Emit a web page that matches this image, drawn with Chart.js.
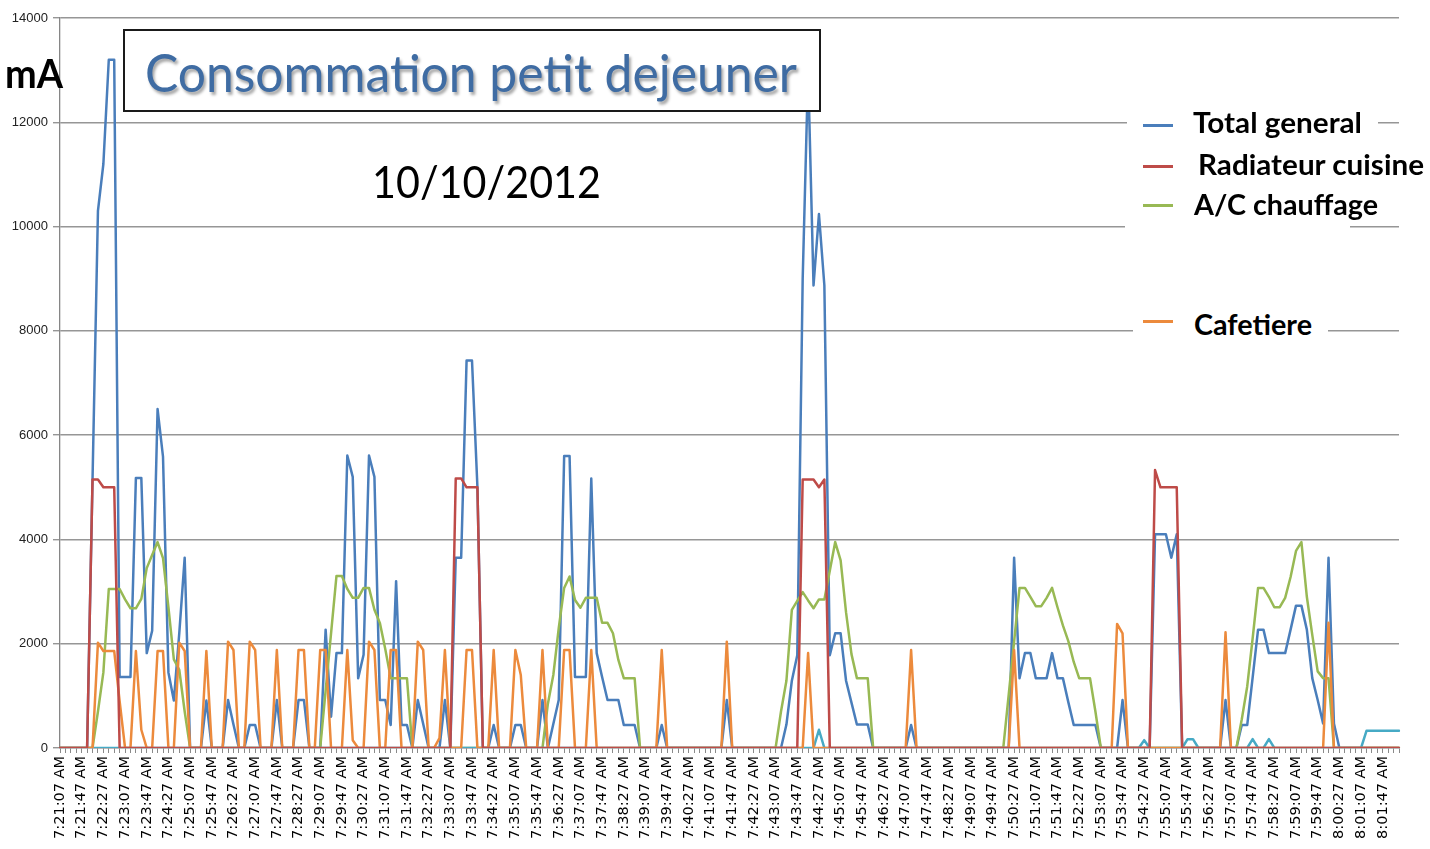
<!DOCTYPE html>
<html>
<head>
<meta charset="utf-8">
<title>Consommation petit dejeuner</title>
<script src="https://cdn.jsdelivr.net/npm/chart.js@4"></script>
<style>
  body { margin: 0; background: #fff; }
  #wrap { position: relative; width: 1430px; height: 849px; overflow: hidden; }
  #chartBox { position: absolute; left: 0; top: 0; width: 1430px; height: 849px; }
  .txt { position: absolute; white-space: nowrap; transform-origin: 0 0; font-family: Lato, sans-serif; }
  #titleBox { position: absolute; left: 123px; top: 29px; width: 698px; height: 83px;
              box-sizing: border-box; border: 2px solid #1a1a1a; background: #fff; }
  #title { left: 145px; top: 46px; font-size: 52px; line-height: 52px; color: #3f6ca3;
           text-shadow: 2px 3px 3px rgba(0,0,0,0.35); }
  #date { left: 372px; top: 159px; font-size: 44px; line-height: 44px; color: #000; }
  #unit { left: 5px; top: 53px; font-size: 40px; line-height: 40px; font-weight: 700; color: #000; }
  .mask { position: absolute; background: #fff; }
  .sw { position: absolute; width: 30px; height: 3px; }
  .leg { font-size: 28px; line-height: 28px; font-weight: 700; color: #000; }
</style>
</head>
<body>
<div id="wrap">
  <div id="chartBox"><canvas id="chart"></canvas></div>
  <div id="titleBox"></div>
  <div class="txt" id="title">Consommation petit dejeuner</div>
  <div class="txt" id="date">10/10/2012</div>
  <div class="txt" id="unit">mA</div>

  <div class="mask" style="left:1127px; top:106px; width:251px; height:36px;"></div>
  <div class="mask" style="left:1125px; top:144px; width:225px; height:90px;"></div>
  <div class="mask" style="left:1133px; top:300px; width:195px; height:42px;"></div>

  <div class="sw" style="left:1143px; top:124px; background:#4a7ebb;"></div>
  <div class="txt leg" id="leg1" style="left:1193px; top:108px;">Total general</div>
  <div class="sw" style="left:1143px; top:165px; background:#be4b48;"></div>
  <div class="txt leg" id="leg2" style="left:1198px; top:150px;">Radiateur cuisine</div>
  <div class="sw" style="left:1143px; top:204px; background:#98b954;"></div>
  <div class="txt leg" id="leg3" style="left:1194px; top:190px;">A/C chauffage</div>
  <div class="sw" style="left:1143px; top:320px; background:#ec8a3c;"></div>
  <div class="txt leg" id="leg4" style="left:1194px; top:310px;">Cafetiere</div>
</div>
<script>
// one reading every 10 s, a tick label every 4 readings
const tickLabels = [
  "7:21:07 AM","7:21:47 AM","7:22:27 AM","7:23:07 AM","7:23:47 AM","7:24:27 AM","7:25:07 AM","7:25:47 AM",
  "7:26:27 AM","7:27:07 AM","7:27:47 AM","7:28:27 AM","7:29:07 AM","7:29:47 AM","7:30:27 AM","7:31:07 AM",
  "7:31:47 AM","7:32:27 AM","7:33:07 AM","7:33:47 AM","7:34:27 AM","7:35:07 AM","7:35:47 AM","7:36:27 AM",
  "7:37:07 AM","7:37:47 AM","7:38:27 AM","7:39:07 AM","7:39:47 AM","7:40:27 AM","7:41:07 AM","7:41:47 AM",
  "7:42:27 AM","7:43:07 AM","7:43:47 AM","7:44:27 AM","7:45:07 AM","7:45:47 AM","7:46:27 AM","7:47:07 AM",
  "7:47:47 AM","7:48:27 AM","7:49:07 AM","7:49:47 AM","7:50:27 AM","7:51:07 AM","7:51:47 AM","7:52:27 AM",
  "7:53:07 AM","7:53:47 AM","7:54:27 AM","7:55:07 AM","7:55:47 AM","7:56:27 AM","7:57:07 AM","7:57:47 AM",
  "7:58:27 AM","7:59:07 AM","7:59:47 AM","8:00:27 AM","8:01:07 AM","8:01:47 AM"
];

// mA readings, 248 points each
const totalGeneral = [
  0,0,0,0,0,0,5150,10300,11200,13200,13200,1360,1360,1360,5180,5180,1820,2250,6500,5590,
  1450,910,2200,3650,0,0,0,910,0,0,0,920,450,0,0,440,440,0,0,0,
  920,0,0,0,920,920,0,0,0,2270,600,1820,1820,5610,5200,1340,1790,5610,5200,920,
  920,440,3200,440,440,0,920,460,0,0,0,920,0,3650,3650,7430,7430,5000,0,0,
  440,0,0,0,440,440,0,0,0,920,0,460,920,5600,5600,1360,1360,1360,5170,1820,
  1360,920,920,920,440,440,440,0,0,0,0,440,0,0,0,0,0,0,0,0,
  0,0,0,920,0,0,0,0,0,0,0,0,0,0,450,1290,1780,9000,13000,8870,
  10240,8870,1780,2200,2200,1290,870,450,450,450,0,0,0,0,0,0,0,440,0,0,
  0,0,0,0,0,0,0,0,0,0,0,0,0,0,0,0,3650,1340,1820,1820,
  1340,1340,1340,1820,1340,1340,880,440,440,440,440,440,0,0,0,0,920,0,0,0,
  0,0,4100,4100,4100,3650,4100,0,0,0,0,0,0,0,0,920,0,0,440,440,
  1350,2270,2270,1820,1820,1820,1820,2270,2730,2730,2270,1340,920,470,3650,470,0,0,0,0,
  0,0,0,0,0,0,0,0
];
const radiateurCuisine = [
  0,0,0,0,0,0,5150,5150,5000,5000,5000,0,0,0,0,0,0,0,0,0,
  0,0,0,0,0,0,0,0,0,0,0,0,0,0,0,0,0,0,0,0,
  0,0,0,0,0,0,0,0,0,0,0,0,0,0,0,0,0,0,0,0,
  0,0,0,0,0,0,0,0,0,0,0,0,0,5170,5170,5000,5000,5000,0,0,
  0,0,0,0,0,0,0,0,0,0,0,0,0,0,0,0,0,0,0,0,
  0,0,0,0,0,0,0,0,0,0,0,0,0,0,0,0,0,0,0,0,
  0,0,0,0,0,0,0,0,0,0,0,0,0,0,0,0,0,5150,5150,5150,
  5000,5150,0,0,0,0,0,0,0,0,0,0,0,0,0,0,0,0,0,0,
  0,0,0,0,0,0,0,0,0,0,0,0,0,0,0,0,0,0,0,0,
  0,0,0,0,0,0,0,0,0,0,0,0,0,0,0,0,0,0,0,0,
  0,0,5330,5000,5000,5000,5000,0,0,0,0,0,0,0,0,0,0,0,0,0,
  0,0,0,0,0,0,0,0,0,0,0,0,0,0,0,0,0,0,0,0,
  0,0,0,0,0,0,0,0
];
const acChauffage = [
  0,0,0,0,0,0,0,700,1450,3050,3050,3050,2850,2680,2680,2860,3450,3700,3950,3640,
  2700,1700,1500,700,0,0,0,0,0,0,0,0,0,0,0,0,0,0,0,0,
  0,0,0,0,0,0,0,0,0,1100,2200,3300,3300,3050,2880,2880,3070,3070,2650,2400,
  1900,1340,1340,1340,1340,0,0,0,0,0,0,0,0,0,0,0,0,0,0,0,
  0,0,0,0,0,0,0,0,0,0,850,1400,2300,3070,3290,2840,2690,2880,2880,2880,
  2400,2400,2200,1690,1340,1340,1340,0,0,0,0,0,0,0,0,0,0,0,0,0,
  0,0,0,0,0,0,0,0,0,0,0,0,0,700,1290,2650,2820,2990,2830,2680,
  2850,2850,3400,3950,3600,2600,1800,1340,1340,1340,0,0,0,0,0,0,0,0,0,0,
  0,0,0,0,0,0,0,0,0,0,0,0,0,0,0,1020,2040,3070,3070,2900,
  2720,2720,2880,3070,2700,2350,2050,1650,1340,1340,1340,700,0,0,0,0,0,0,0,0,
  0,0,0,0,0,0,0,0,0,0,0,0,0,0,0,0,0,0,550,1180,
  2100,3070,3070,2900,2700,2700,2880,3280,3780,3950,2900,2170,1470,1340,1340,0,0,0,0,0,
  0,0,0,0,0,0,0,0
];
const autreCircuit = [
  0,0,0,0,0,0,0,0,0,0,0,0,0,0,0,0,0,0,0,0,
  0,0,0,0,0,0,0,0,0,0,0,0,0,0,0,0,0,0,0,0,
  0,0,0,0,0,0,0,0,0,0,0,0,0,0,0,0,0,0,0,0,
  0,0,0,0,0,0,0,0,0,0,0,0,0,0,0,0,0,0,0,0,
  0,0,0,0,0,0,0,0,0,0,0,0,0,0,0,0,0,0,0,0,
  0,0,0,0,0,0,0,0,0,0,0,0,0,0,0,0,0,0,0,0,
  0,0,0,0,0,0,0,0,0,0,0,0,0,0,0,0,0,0,0,0,
  350,0,0,0,0,0,0,0,0,0,0,0,0,0,0,0,0,0,0,0,
  0,0,0,0,0,0,0,0,0,0,0,0,0,0,0,0,0,0,0,0,
  0,0,0,0,0,0,0,0,0,0,0,0,0,0,0,0,0,0,0,0,
  150,0,0,0,0,0,0,0,170,170,0,0,0,0,0,0,0,0,0,0,
  170,0,0,170,0,0,0,0,0,0,0,0,0,0,0,0,0,0,0,0,
  0,330,330,330,330,330,330,330
];
const cafetiere = [
  0,0,0,0,0,0,0,2020,1860,1860,1860,900,0,0,1860,350,0,0,1860,1860,
  0,0,2020,1860,0,0,0,1860,0,0,0,2040,1880,0,0,2040,1880,0,0,0,
  1880,0,0,0,1880,1880,0,0,1880,1880,0,0,0,1880,150,0,0,2040,1880,0,
  0,1880,1880,0,0,0,2040,1880,0,0,190,1880,0,0,0,1880,1880,0,0,0,
  1880,0,0,0,1880,1400,0,0,0,1880,0,0,0,1880,1880,0,0,0,1880,0,
  0,0,0,0,0,0,0,0,0,0,0,1880,0,0,0,0,0,0,0,0,
  0,0,0,2040,0,0,0,0,0,0,0,0,0,0,0,0,0,0,1820,0,
  0,0,0,0,0,0,0,0,0,0,0,0,0,0,0,0,0,1880,0,0,
  0,0,0,0,0,0,0,0,0,0,0,0,0,0,0,0,1880,0,0,0,
  0,0,0,0,0,0,0,0,0,0,0,0,0,0,0,2380,2200,0,0,0,
  0,0,0,0,0,0,0,0,0,0,0,0,0,0,0,2220,0,0,0,0,
  0,0,0,0,0,0,0,0,0,0,0,0,0,0,2400,0,0,0,0,0,
  0,0,0,0,0,0,0,0
];

// categories: one every 10 seconds from 7:21:07
const categories = [];
for (let i = 0; i < totalGeneral.length; i++) {
  let s = 7 * 3600 + 21 * 60 + 7 + i * 10;
  let h = Math.floor(s / 3600), m = Math.floor(s / 60) % 60, sec = s % 60;
  categories.push(h + ":" + String(m).padStart(2, "0") + ":" + String(sec).padStart(2, "0") + " AM");
}

let ctx = document.getElementById("chart").getContext("2d");
let chart = new Chart(ctx, {
  type: "line",
  data: {
    labels: categories,
    datasets: [
      { label: "Total general", data: totalGeneral, borderColor: "#4a7ebb", order: 5 },
      { label: "Radiateur cuisine", data: radiateurCuisine, borderColor: "#be4b48", order: 1 },
      { label: "A/C chauffage", data: acChauffage, borderColor: "#98b954", order: 4 },
      { label: "", data: autreCircuit, borderColor: "#46aac5", order: 3 },
      { label: "Cafetiere", data: cafetiere, borderColor: "#ec8a3c", order: 2 }
    ]
  },
  options: {
    responsive: true,
    maintainAspectRatio: false,
    animation: false,
    elements: {
      line: { borderWidth: 2.5, tension: 0, borderJoinStyle: "round", borderCapStyle: "round", fill: false },
      point: { radius: 0, hoverRadius: 0 }
    },
    layout: { padding: { top: 18, right: 31, left: 0, bottom: 0 } },
    plugins: { legend: { display: false }, tooltip: { enabled: false } },
    scales: {
      x: {
        offset: false,
        grid: { display: true, drawOnChartArea: false, drawTicks: true, tickLength: 5, color: "#8a8a8a" },
        border: { color: "#868686", width: 1.3 },
        ticks: {
          autoSkip: false, minRotation: 90, maxRotation: 90, padding: 3,
          color: "#000", font: { family: "DejaVu Sans", size: 14.5 },
          callback: function (v, i) { return i % 4 === 0 ? tickLabels[i / 4] : ""; }
        },
        afterFit: function (scale) { scale.height = 101; }
      },
      y: {
        min: 0, max: 14000,
        grid: { color: "#969696", lineWidth: 1.4, tickLength: 7 },
        border: { color: "#868686", width: 1.3 },
        ticks: {
          stepSize: 2000, padding: 5, color: "#222", font: { family: "Liberation Sans", size: 13 },
          callback: function (v) { return String(v); }
        },
        afterFit: function (scale) { scale.width = 60; }
      }
    }
  }
});

// stretch the overlay texts to the widths seen in the picture
function fitWidth(id, w) {
  let el = document.getElementById(id);
  let r = el.getBoundingClientRect().width;
  el.style.transform = "scaleX(" + (w / r) + ")";
}
fitWidth("title", 652);
fitWidth("date", 229);
fitWidth("unit", 58);
fitWidth("leg1", 169);
fitWidth("leg2", 226);
fitWidth("leg3", 184);
fitWidth("leg4", 118);
</script>
</body>
</html>
